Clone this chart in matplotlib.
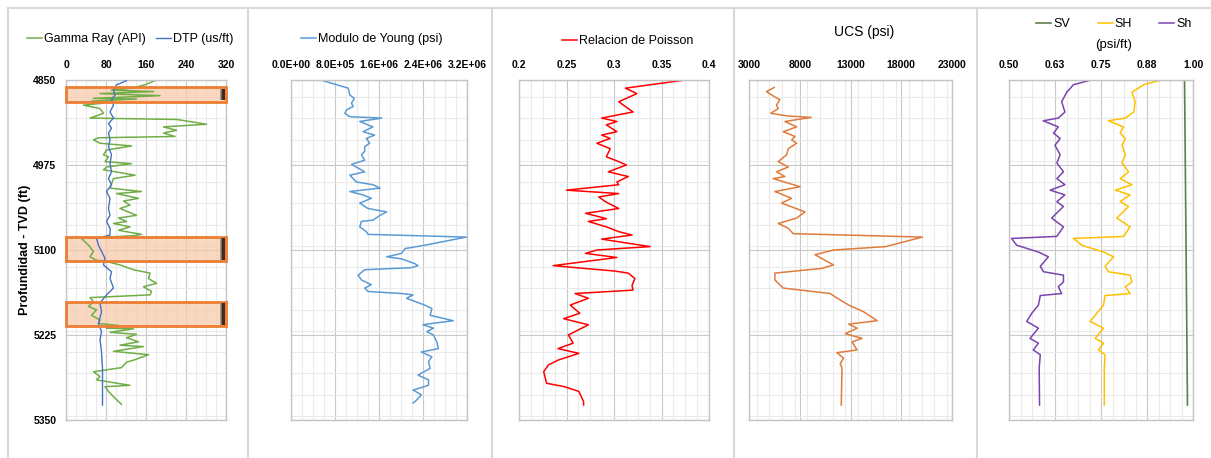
import numpy as np
import matplotlib
matplotlib.use('Agg')
from matplotlib import pyplot as plt
from matplotlib.patches import Rectangle
from matplotlib.lines import Line2D
from matplotlib.ticker import MultipleLocator

plt.rcParams['font.family'] = ['Liberation Sans Narrow', 'Liberation Sans', 'DejaVu Sans']

# Gamma ray (API) vs depth (ft)
gr_depth = [4850, 4857, 4862, 4865, 4867, 4870, 4873, 4877, 4878, 4881, 4884, 4887, 4892, 4899,
            4906, 4908, 4915, 4919, 4924, 4928, 4933, 4935, 4938, 4943, 4947, 4953, 4960, 4963,
            4970, 4973, 4978, 4982, 4990, 4995, 5009, 5014, 5017, 5024, 5028, 5034, 5039, 5049,
            5053, 5058, 5061, 5066, 5071, 5077, 5079, 5083, 5093, 5102, 5110, 5115, 5117, 5122,
            5129, 5134, 5142, 5149, 5154, 5161, 5166, 5170, 5176, 5183, 5188, 5196, 5203, 5208,
            5211, 5215, 5216, 5221, 5224, 5229, 5235, 5240, 5242, 5249, 5254, 5262, 5265, 5273,
            5279, 5286, 5291, 5299, 5301, 5308, 5318, 5327]
gr_api = [181, 158, 131, 91, 175, 68, 188, 55, 141, 51, 75, 35, 68, 75,
          48, 221, 281, 195, 221, 195, 218, 65, 55, 68, 131, 81, 75, 85,
          78, 131, 81, 75, 138, 95, 88, 151, 101, 145, 115, 128, 108, 141,
          105, 121, 95, 128, 105, 151, 135, 31, 45, 55, 48, 61, 81, 108,
          135, 168, 165, 181, 155, 171, 168, 48, 55, 45, 61, 51, 68, 65,
          105, 81, 135, 88, 141, 121, 145, 108, 155, 95, 165, 135, 121, 111,
          55, 68, 61, 128, 78, 85, 98, 111]

# Sonic DTP (us/ft)
dtp_depth = [4851, 4855, 4857, 4865, 4872, 4879, 4887, 4897, 4906, 4914, 4921, 4928, 4938, 4948,
             4960, 4973, 4985, 4995, 5004, 5014, 5024, 5039, 5049, 5058, 5068, 5078, 5083, 5093,
             5102, 5112, 5122, 5132, 5142, 5156, 5166, 5178, 5191, 5208, 5220, 5232, 5250, 5274,
             5328]
dtp_us = [121, 108, 101, 95, 98, 91, 95, 88, 95, 85, 91, 85, 88, 85,
          91, 88, 91, 85, 91, 81, 88, 85, 88, 81, 88, 88, 61, 65,
          71, 78, 75, 91, 88, 95, 81, 68, 71, 65, 71, 68, 71, 73,
          73]

# Young's modulus (psi)
young_depth = [4850, 4862, 4872, 4877, 4884, 4889, 4894, 4899, 4904, 4906, 4911, 4919, 4926, 4931,
               4936, 4943, 4948, 4955, 4960, 4968, 4974, 4985, 4990, 5000, 5004, 5009, 5014, 5019,
               5024, 5031, 5039, 5044, 5049, 5056, 5058, 5066, 5073, 5077, 5081, 5093, 5098, 5105,
               5110, 5113, 5120, 5123, 5126, 5129, 5137, 5144, 5151, 5156, 5161, 5164, 5166, 5171,
               5181, 5186, 5196, 5204, 5208, 5210, 5215, 5220, 5225, 5235, 5245, 5250, 5257, 5264,
               5274, 5284, 5291, 5299, 5306, 5313, 5321, 5325]
young_psi = [0.54, 1.04, 1.07, 1.15, 1.10, 1.13, 1.01, 0.98, 1.07, 1.65, 1.25, 1.49, 1.31, 1.52,
             1.37, 1.43, 1.34, 1.34, 1.28, 1.34, 1.10, 1.34, 1.07, 1.19, 1.49, 1.62, 1.07, 1.31,
             1.46, 1.25, 1.40, 1.74, 1.62, 1.49, 1.28, 1.25, 1.37, 1.40, 3.19, 2.43, 2.07, 2.01,
             1.74, 2.01, 2.25, 2.31, 2.19, 1.34, 1.22, 1.28, 1.46, 1.34, 1.40, 2.01, 2.22, 2.10,
             2.43, 2.56, 2.53, 2.95, 2.56, 2.40, 2.59, 2.47, 2.59, 2.65, 2.68, 2.37, 2.56, 2.50,
             2.53, 2.31, 2.50, 2.50, 2.22, 2.37, 2.28, 2.22]
young_psi = [v * 1e6 for v in young_psi]

# Poisson's ratio
poisson_depth = [4850, 4862, 4870, 4882, 4889, 4897, 4906, 4911, 4916, 4926, 4931, 4936, 4943, 4951,
                 4963, 4970, 4975, 4985, 4992, 5000, 5004, 5012, 5017, 5022, 5029, 5039, 5046, 5051,
                 5054, 5058, 5066, 5073, 5078, 5084, 5095, 5100, 5105, 5111, 5123, 5131, 5134, 5142,
                 5152, 5159, 5164, 5171, 5181, 5193, 5201, 5210, 5225, 5237, 5245, 5252, 5262, 5269,
                 5279, 5296, 5301, 5308, 5323, 5328]
poisson = [0.375, 0.312, 0.324, 0.305, 0.312, 0.320, 0.287, 0.303, 0.292, 0.303, 0.287, 0.296,
           0.282, 0.296, 0.292, 0.305, 0.313, 0.294, 0.315, 0.303, 0.305, 0.250, 0.305, 0.284,
           0.291, 0.305, 0.270, 0.284, 0.292, 0.273, 0.292, 0.305, 0.319, 0.287, 0.338, 0.282,
           0.270, 0.303, 0.236, 0.301, 0.315, 0.322, 0.319, 0.320, 0.259, 0.273, 0.254, 0.264,
           0.247, 0.273, 0.252, 0.257, 0.241, 0.263, 0.241, 0.231, 0.226, 0.229, 0.248, 0.263,
           0.268, 0.268]

# Unconfined compressive strength (psi)
ucs_depth = [4861, 4867, 4875, 4879, 4887, 4892, 4899, 4903, 4905, 4911, 4919, 4926, 4933, 4938,
             4943, 4951, 4960, 4970, 4978, 4985, 4992, 4995, 5007, 5014, 5024, 5031, 5044, 5053,
             5061, 5068, 5076, 5081, 5095, 5100, 5107, 5122, 5127, 5134, 5144, 5156, 5164, 5169,
             5181, 5191, 5204, 5209, 5215, 5223, 5230, 5235, 5247, 5251, 5259, 5267, 5274, 5328]
ucs_psi = [5480, 4720, 5550, 6040, 5710, 5880, 5150, 6870, 9120, 6540, 7690, 6370, 7530, 7200,
           7690, 6870, 6700, 5880, 6870, 5710, 6540, 5380, 8030, 5550, 7200, 6210, 8520, 7690,
           5880, 6870, 7360, 20090, 16460, 11330, 9510, 11330, 10170, 5550, 5550, 6370, 11000, 11500,
           12820, 14310, 15630, 12820, 13650, 12490, 14140, 13150, 13650, 11660, 12320, 11990, 12160, 12090]

# Stress gradients (psi/ft)
stress_depth = [4851, 4857, 4868, 4882, 4897, 4906, 4910, 4919, 4928, 4936, 4946, 4960, 4972, 4985,
                4995, 5004, 5012, 5019, 5029, 5036, 5053, 5066, 5080, 5083, 5093, 5103, 5110, 5124,
                5132, 5137, 5147, 5154, 5164, 5167, 5181, 5193, 5205, 5215, 5230, 5237, 5247, 5254,
                5274, 5328]
sh_max = [0.907, 0.866, 0.834, 0.843, 0.839, 0.816, 0.770, 0.811, 0.802, 0.816,
          0.807, 0.816, 0.807, 0.825, 0.802, 0.834, 0.789, 0.829, 0.802, 0.825,
          0.793, 0.829, 0.811, 0.675, 0.698, 0.757, 0.784, 0.761, 0.770, 0.829,
          0.834, 0.816, 0.829, 0.761, 0.757, 0.739, 0.720, 0.757, 0.734, 0.757,
          0.743, 0.761, 0.759, 0.759]
sh_min = [0.716, 0.675, 0.657, 0.643, 0.652, 0.634, 0.593, 0.634, 0.621, 0.639,
          0.625, 0.639, 0.630, 0.648, 0.630, 0.652, 0.612, 0.652, 0.630, 0.648,
          0.616, 0.648, 0.630, 0.507, 0.521, 0.580, 0.607, 0.585, 0.594, 0.648,
          0.648, 0.634, 0.643, 0.585, 0.580, 0.562, 0.548, 0.580, 0.557, 0.580,
          0.566, 0.585, 0.582, 0.583]
sv_depth = [4850, 5328]
sv = [0.977, 0.985]

# Intervals highlighted on the gamma ray track (top, base in ft)
zone_top = [4861, 5081, 5176]
zone_base = [4882, 5116, 5212]

depth_labels = [4850, 4975, 5100, 5225, 5350]

W, H = 1211, 458
fig = plt.figure(figsize=(W / 100, H / 100), dpi=100)


def track(x0, x1, y0=80, y1=420):
    return fig.add_axes([x0 / W, 1 - y1 / H, (x1 - x0) / W, (y1 - y0) / H])


def setup(ax, xmin, xmax, minor, labels, show_depth=False):
    ax.set_xlim(xmin, xmax)
    ax.set_ylim(5350, 4850)
    ax.xaxis.tick_top()
    ax.set_xticks(np.linspace(xmin, xmax, len(labels)))
    ax.set_xticklabels(labels, fontsize=7.5, fontweight='bold')
    ax.xaxis.set_minor_locator(MultipleLocator(minor))
    ax.set_yticks(depth_labels)
    ax.yaxis.set_minor_locator(MultipleLocator(31.25))
    if show_depth:
        ax.set_yticklabels([str(d) for d in depth_labels], fontsize=7.5, fontweight='bold')
    else:
        ax.set_yticklabels([])
    ax.tick_params(which='both', length=0, pad=7)
    ax.grid(which='major', color='#C8C8C8', lw=0.8)
    ax.grid(which='minor', color='#EAEAEA', lw=0.8)
    ax.set_axisbelow(True)
    for s in ax.spines.values():
        s.set_color('#C4C4C4')
        s.set_linewidth(1.0)


def leg(ax, handles, xc, yc, ncol, spacing=0.8):
    ax.legend(handles=handles, loc='center', bbox_to_anchor=(xc / W, 1 - yc / H),
              bbox_transform=fig.transFigure, ncol=ncol, frameon=False, fontsize=9,
              handlelength=1.2, handletextpad=0.15, columnspacing=spacing)


# Track 1: gamma ray + sonic
ax1 = track(66, 226)
setup(ax1, 0, 320, 20, ['0', '80', '160', '240', '320'], show_depth=True)
for top, base in zip(zone_top, zone_base):
    ax1.axhspan(top, base, facecolor='#F8CBAD', alpha=0.75, edgecolor='none', zorder=1)
l_gr, = ax1.plot(gr_api, gr_depth, color='#70AD47', lw=1.1, label='Gamma Ray (API)', zorder=2)
l_dtp, = ax1.plot(dtp_us, dtp_depth, color='#4472C4', lw=1.0, label='DTP (us/ft)', zorder=3)
for top, base in zip(zone_top, zone_base):
    ax1.axhspan(top, base, facecolor='none', edgecolor='#ED7D31', lw=2, zorder=4, clip_on=False)
    ax1.add_patch(Rectangle((0.962, top + 2), 0.03, base - top - 4,
                            transform=ax1.get_yaxis_transform(), facecolor='#3E2A1E',
                            edgecolor='#B8A898', hatch='||', lw=0, zorder=5))
ax1.set_ylabel('Profundidad - TVD (ft)', fontsize=9, fontweight='bold')
ax1.yaxis.set_label_coords(-0.22, 0.5)
leg(ax1, [l_gr, l_dtp], 130, 39, 2)

# Track 2: Young's modulus
ax2 = track(291, 467)
setup(ax2, 0, 3.2e6, 2e5, ['0.0E+00', '8.0E+05', '1.6E+06', '2.4E+06', '3.2E+06'])
l_young, = ax2.plot(young_psi, young_depth, color='#5B9BD5', lw=1.1, label='Modulo de Young (psi)')
leg(ax2, [l_young], 372, 39, 1)

# Track 3: Poisson's ratio
ax3 = track(519, 709)
setup(ax3, 0.2, 0.4, 0.0125, ['0.2', '0.25', '0.3', '0.35', '0.4'])
l_pr, = ax3.plot(poisson, poisson_depth, color='#FF0000', lw=1.1, label='Relacion de Poisson')
leg(ax3, [l_pr], 628, 41, 1)

# Track 4: UCS
ax4 = track(749, 952)
setup(ax4, 3000, 23000, 1250, ['3000', '8000', '13000', '18000', '23000'])
ax4.plot(ucs_psi, ucs_depth, color='#E07B3C', lw=1.1)
fig.text(864 / W, 1 - 32 / H, 'UCS (psi)', ha='center', va='center', fontsize=10)

# Track 5: stress gradients
ax5 = track(1009, 1193)
setup(ax5, 0.5, 1.0, 0.03125, ['0.50', '0.63', '0.75', '0.88', '1.00'])
l_sv, = ax5.plot(sv, sv_depth, color='#5E7F4E', lw=1.2, label='SV')
l_sH, = ax5.plot(sh_max, stress_depth, color='#FFC000', lw=1.1, label='SH')
l_sh, = ax5.plot(sh_min, stress_depth, color='#7A44B0', lw=1.1, label='Sh')
leg(ax5, [l_sv, l_sH, l_sh], 1114, 24, 3, spacing=2.2)
fig.text(1114 / W, 1 - 45 / H, '(psi/ft)', ha='center', va='center', fontsize=9.5)

# Chart frames
frame = dict(color='#D9D9D9', lw=1.5)
fig.add_artist(Line2D([8 / W, 1], [1 - 8 / H, 1 - 8 / H], **frame))
for xs in [8, 248, 492, 734, 977]:
    fig.add_artist(Line2D([xs / W, xs / W], [0, 1 - 8 / H], **frame))

fig.savefig('out.png', dpi=100, facecolor='white')
